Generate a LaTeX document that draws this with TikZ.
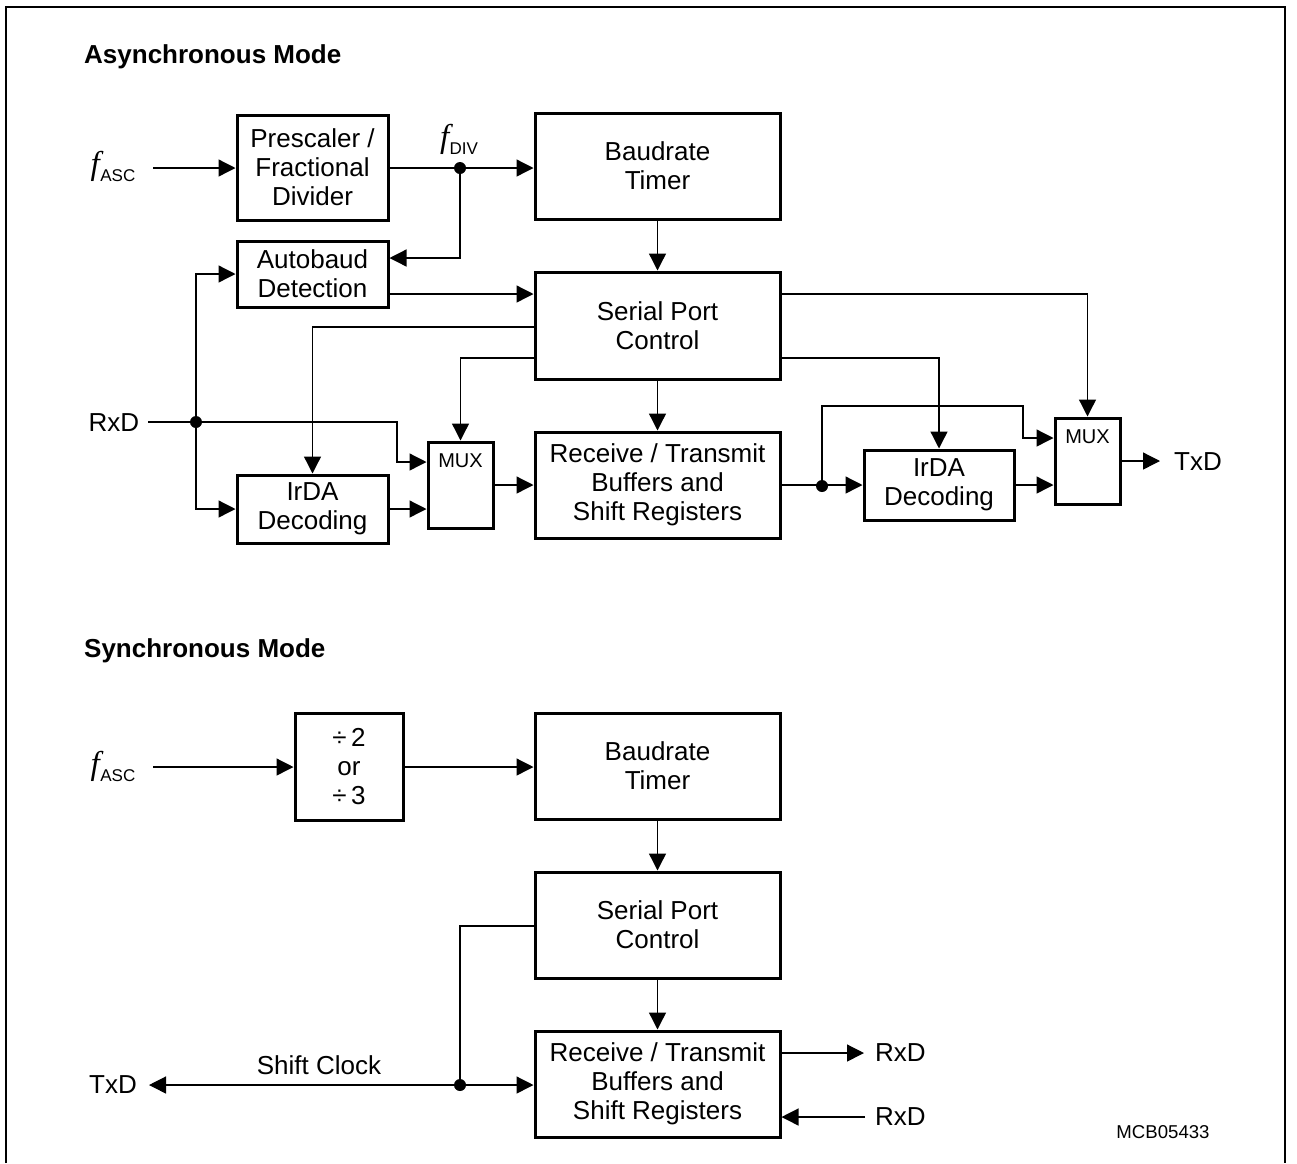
\documentclass[tikz,border=0pt]{standalone}
\usepackage{fontspec}
\setmainfont{Liberation Sans}
\newfontfamily\tnr{Liberation Serif}
\usetikzlibrary{arrows.meta}
\newcommand\fsub[1]{{\tnr\itshape\fontsize{33}{33}\selectfont f}\kern0.5pt\raisebox{-7pt}{\fontsize{17}{17}\selectfont #1}}
\begin{document}
\begin{tikzpicture}[x=1pt,y=-1pt,
  box/.style={draw,line width=3pt,inner sep=0pt,align=center,font=\fontsize{26}{29}\selectfont},
  muxbox/.style={draw,line width=3pt,inner sep=0pt,minimum width=65pt,minimum height=86pt},
  lbl/.style={inner sep=0pt,font=\fontsize{26}{29}\selectfont},
  ttl/.style={inner sep=0pt,anchor=base west,font=\fontsize{26}{29}\selectfont\bfseries},
  conn/.style={line width=1.3pt},
  arr/.style={line width=1.3pt,-{Triangle[length=17pt,width=17pt]}},
  dot/.style={fill=black}]
\useasboundingbox (0,0) rectangle (1297,1163);
\draw[line width=1.5pt] (6,1163) -- (6,7) -- (1285,7) -- (1285,1163);

% ---------- Asynchronous ----------
\node[ttl] (t1) at (84,63) {Asynchronous Mode};
\node[box,minimum width=151pt,minimum height=105pt] (pre) at (312.5,167.5) {Prescaler /\\Fractional\\Divider};
\node[box,minimum width=245pt,minimum height=106pt] (baud) at (657.5,166) {Baudrate\\Timer};
\node[box,minimum width=151pt,minimum height=66pt] (auto) at (312.5,274) {Autobaud\\Detection};
\node[box,minimum width=245pt,minimum height=107pt] (spc) at (657.5,325.5) {Serial Port\\Control};
\node[box,minimum width=245pt,minimum height=106pt] (rt) at (657.5,485) {Receive / Transmit\\Buffers and\\Shift Registers};
\node[box,minimum width=151pt,minimum height=68pt] (irdaL) at (312.5,509) {IrDA\\Decoding};
\node[muxbox] (muxL) at (460.5,485) {};
\node[inner sep=0pt,font=\fontsize{20}{20}\selectfont] (muxLt) at (460.5,461) {MUX};
\node[box,minimum width=150pt,minimum height=70pt] (irdaR) at (939,485) {IrDA\\Decoding};
\node[muxbox] (muxR) at (1087.5,461) {};
\node[inner sep=0pt,font=\fontsize{20}{20}\selectfont] (muxRt) at (1087.5,437) {MUX};

\node[lbl] (fasc) at (113,166) {\fsub{ASC}};
\node[lbl] (fdiv) at (459,139) {\fsub{DIV}};
\node[lbl] (rxd) at (114,423) {RxD};
\node[lbl,anchor=west] (txd) at (1174,462) {TxD};

\coordinate (fin) at (153,168);
\coordinate (d1) at (460,168);
\coordinate (rxin) at (148,422);
\coordinate (d2) at (196,422);
\coordinate (d3) at (822,486);
\coordinate (txout) at (1160,461);

\draw[arr] (fin) -- (fin -| pre.west);
\draw[arr] (pre.east |- fin) -- (fin -| baud.west);
\draw[arr] (d1) |- (auto.east |- 0,258);
\draw[arr] (auto.east |- 0,294) -- (spc.west |- 0,294);
\draw[arr] (baud.south) -- (spc.north);
\draw[arr] (spc.west |- 0,327) -| (irdaL.north);
\draw[arr] (spc.west |- 0,358) -| (muxL.north);
\draw[arr] (spc.south) -- (rt.north);
\draw[conn] (rxin) -- (d2);
\draw[arr] (d2) -- (397,422) |- (muxL.west |- 0,462);
\draw[arr] (d2) |- (auto.west);
\draw[arr] (d2) |- (irdaL.west);
\draw[arr] (irdaL.east) -- (irdaL.east -| muxL.west);
\draw[arr] (muxL.east) -- (rt.west);
\draw[arr] (rt.east) -- (irdaR.west);
\draw[arr] (d3) |- (1023,406) |- (muxR.west |- 0,438);
\draw[arr] (irdaR.east) -- (irdaR.east -| muxR.west);
\draw[arr] (muxR.east) -- (txout);
\draw[arr] (spc.east |- 0,294) -| (muxR.north);
\draw[arr] (spc.east |- 0,358) -| (irdaR.north);
\fill[dot] (d1) circle (6);
\fill[dot] (d2) circle (6);
\fill[dot] (d3) circle (6);

% ---------- Synchronous ----------
\node[ttl] (t2) at (84,657) {Synchronous Mode};
\node[box,minimum width=108pt,minimum height=107pt] (div) at (349,766.5) {÷\,2\\or\\÷\,3};
\node[box,minimum width=245pt,minimum height=106pt] (baud2) at (657.5,766) {Baudrate\\Timer};
\node[box,minimum width=245pt,minimum height=106pt] (spc2) at (657.5,925) {Serial Port\\Control};
\node[box,minimum width=245pt,minimum height=106pt] (rt2) at (657.5,1084) {Receive / Transmit\\Buffers and\\Shift Registers};

\node[lbl] (fasc2) at (113,766) {\fsub{ASC}};
\node[lbl] (txd2) at (113,1085) {TxD};
\node[lbl] (shclk) at (319,1065) {Shift Clock};
\node[lbl,anchor=west] (rxo) at (875,1053) {RxD};
\node[lbl,anchor=west] (rxi) at (875,1117) {RxD};
\node[inner sep=0pt,font=\fontsize{18.6}{20}\selectfont] (code) at (1163,1132) {MCB05433};

\coordinate (fin2) at (153,767);
\coordinate (d4) at (460,1085);
\coordinate (txout2) at (149,1085);
\coordinate (rxoe) at (864,1053);
\coordinate (rxis) at (865,1117);

\draw[arr] (fin2) -- (fin2 -| div.west);
\draw[arr] (div.east |- fin2) -- (fin2 -| baud2.west);
\draw[arr] (baud2.south) -- (spc2.north);
\draw[arr] (spc2.south) -- (rt2.north);
\draw[conn] (spc2.west |- 0,926) -| (d4);
\draw[arr] (d4) -- (d4 -| rt2.west);
\draw[arr] (d4) -- (txout2);
\draw[arr] (rt2.east |- rxoe) -- (rxoe);
\draw[arr] (rxis) -- (rxis -| rt2.east);
\fill[dot] (d4) circle (6);
\end{tikzpicture}
\end{document}
